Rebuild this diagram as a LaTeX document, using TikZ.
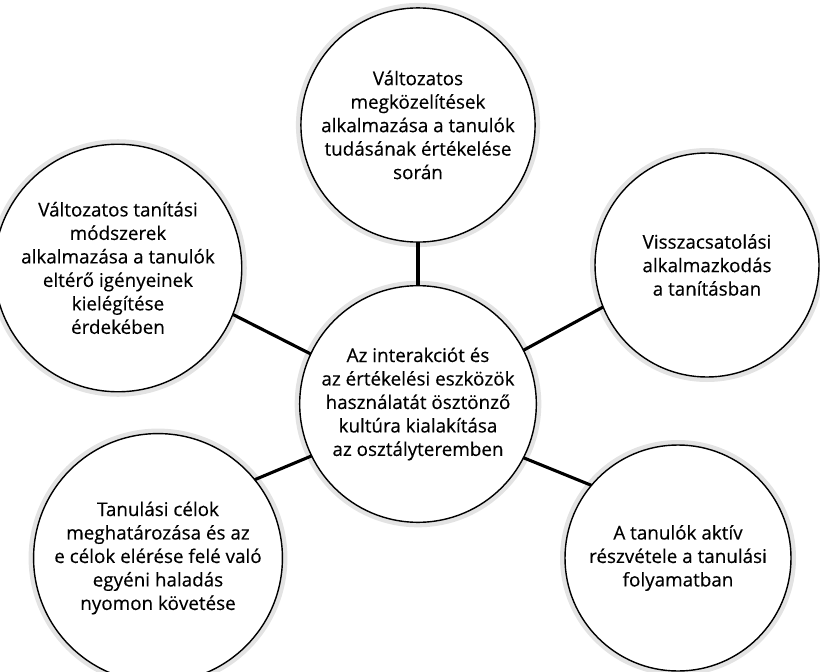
\documentclass[tikz,border=0pt]{standalone}
\usepackage{fontspec}
\setmainfont{Open Sans}
\newfontfamily\bubblefont{Open Sans}[FakeBold=0.3]
\begin{document}
\begin{tikzpicture}
			\tikzstyle{bubble}=[circle,draw,line width=1pt,fill=white,outer sep=0pt,align=center,
				font=\bubblefont\fontsize{13.4}{16.7}\selectfont,preaction={draw=black!11,line width=0.25cm}]
			\tikzstyle{link}=[line width=2.2pt]
			\def\bubblesize{5.75cm}
			\clip (0,0) rectangle (20.5,-16.775);
			\node[bubble,minimum size=5.7cm](core) at (10.45,-10.1){Az interakciót és\\az értékelési eszközök\\használatát ösztönző\\kultúra kialakítása\\az osztályteremben};
			\node[bubble,minimum size=\bubblesize](assess) at (10.45,-3.125){Változatos\\megközelítések\\alkalmazása a tanulók\\tudásának értékelése\\során};
			\node[bubble,minimum size=\bubblesize](methods) at (2.95,-6.7){Változatos tanítási\\módszerek\\alkalmazása a tanulók\\eltérő igényeinek\\kielégítése\\érdekében};
			\node[bubble,minimum size=5.6cm](feedback) at (17.675,-6.625){Visszacsatolási\\alkalmazkodás\\a tanításban};
			\node[bubble,minimum size=5.6cm](goals) at (3.95,-13.95){Tanulási célok\\meghatározása és az\\e célok elérése felé való\\egyéni haladás\\nyomon követése};
			\node[bubble,minimum size=5.65cm](active) at (16.95,-13.95){A tanulók aktív\\részvétele a tanulási\\folyamatban};
			% spokes
			\path[link] (core.90) edge (assess.270)
			(core.155) edge (methods.-22)
			(core.27) edge (feedback.202)
			(core.206) edge (goals.39)
			(core.-27) edge (active.140);
\end{tikzpicture}
\end{document}
